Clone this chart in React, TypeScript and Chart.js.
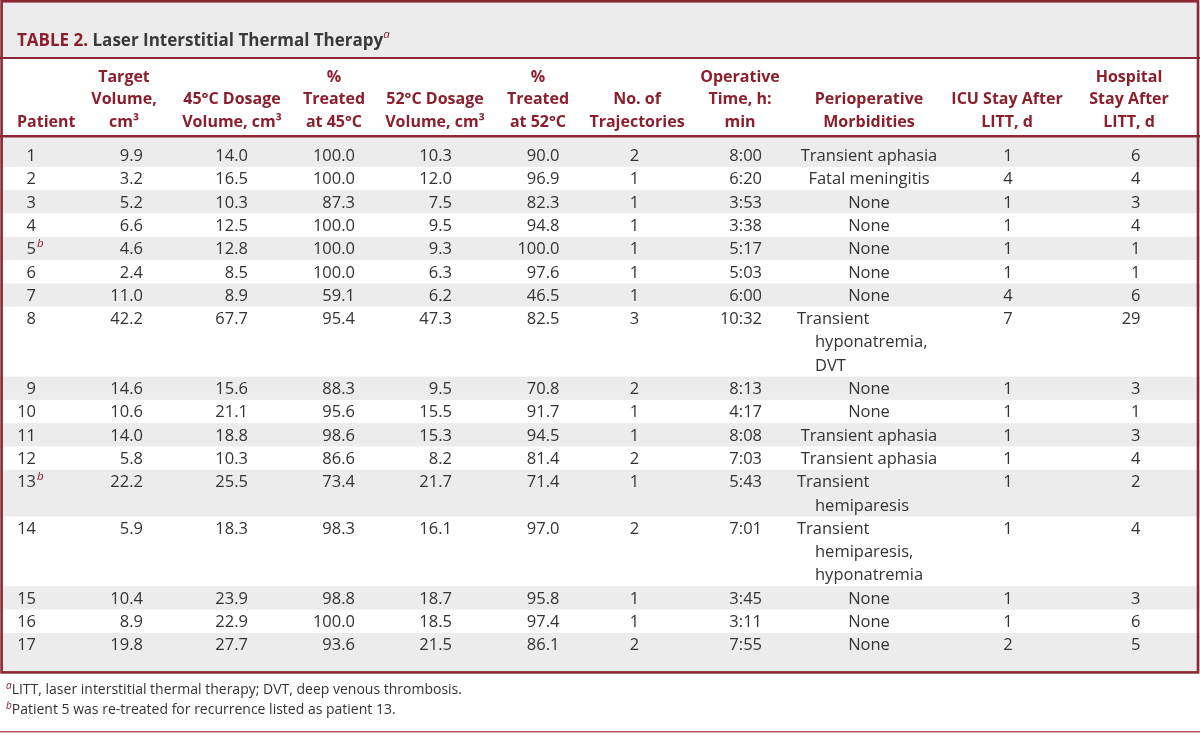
import { useEffect, useRef } from "react";
import { Chart, registerables } from "chart.js";

Chart.register(...registerables);

// ---------- DATA ----------
const patients = ["1", "2", "3", "4", "5", "6", "7", "8", "9", "10", "11", "12", "13", "14", "15", "16", "17"];
const patientNotes = ["", "", "", "", "b", "", "", "", "", "", "", "", "b", "", "", "", ""];
const targetVolume = [9.9, 3.2, 5.2, 6.6, 4.6, 2.4, 11.0, 42.2, 14.6, 10.6, 14.0, 5.8, 22.2, 5.9, 10.4, 8.9, 19.8];
const dosage45 = [14.0, 16.5, 10.3, 12.5, 12.8, 8.5, 8.9, 67.7, 15.6, 21.1, 18.8, 10.3, 25.5, 18.3, 23.9, 22.9, 27.7];
const treated45 = [100.0, 100.0, 87.3, 100.0, 100.0, 100.0, 59.1, 95.4, 88.3, 95.6, 98.6, 86.6, 73.4, 98.3, 98.8, 100.0, 93.6];
const dosage52 = [10.3, 12.0, 7.5, 9.5, 9.3, 6.3, 6.2, 47.3, 9.5, 15.5, 15.3, 8.2, 21.7, 16.1, 18.7, 18.5, 21.5];
const treated52 = [90.0, 96.9, 82.3, 94.8, 100.0, 97.6, 46.5, 82.5, 70.8, 91.7, 94.5, 81.4, 71.4, 97.0, 95.8, 97.4, 86.1];
const trajectories = [2, 1, 1, 1, 1, 1, 1, 3, 2, 1, 1, 2, 1, 2, 1, 1, 2];
const operativeTime = ["8:00", "6:20", "3:53", "3:38", "5:17", "5:03", "6:00", "10:32", "8:13", "4:17", "8:08", "7:03", "5:43", "7:01", "3:45", "3:11", "7:55"];
const morbidities = [
  ["Transient aphasia"],
  ["Fatal meningitis"],
  ["None"],
  ["None"],
  ["None"],
  ["None"],
  ["None"],
  ["Transient", "hyponatremia,", "DVT"],
  ["None"],
  ["None"],
  ["Transient aphasia"],
  ["Transient aphasia"],
  ["Transient", "hemiparesis"],
  ["Transient", "hemiparesis,", "hyponatremia"],
  ["None"],
  ["None"],
  ["None"],
];
const icuStay = [1, 4, 1, 1, 1, 1, 4, 7, 1, 1, 1, 1, 1, 1, 1, 1, 2];
const hospitalStay = [6, 4, 3, 4, 1, 1, 6, 29, 3, 1, 3, 4, 2, 4, 3, 6, 5];

const titleLabel = "TABLE 2.";
const titleText = "Laser Interstitial Thermal Therapy";
const headerLabels = [
  ["Patient"],
  ["Target", "Volume,", "cm³"],
  ["45°C Dosage", "Volume, cm³"],
  ["%", "Treated", "at 45°C"],
  ["52°C Dosage", "Volume, cm³"],
  ["%", "Treated", "at 52°C"],
  ["No. of", "Trajectories"],
  ["Operative", "Time, h:", "min"],
  ["Perioperative", "Morbidities"],
  ["ICU Stay After", "LITT, d"],
  ["Hospital", "Stay After", "LITT, d"],
];
const footnotes = [
  { mark: "a", text: "LITT, laser interstitial thermal therapy; DVT, deep venous thrombosis." },
  { mark: "b", text: "Patient 5 was re-treated for recurrence listed as patient 13." },
];

// ---------- STYLE / LAYOUT ----------
const FONT = '"Open Sans", "Noto Sans", sans-serif';
const RED = "#8a1f2e";
const BORDER = "#8b2835";
const TEXT = "#333333";
const GRAY = "#ececec";
const W = 1200;
const H = 733;
const LINE_PX = 23.3;
const FIRST_LINE_PX = 155.2;

const headerAnchors: { x: number; align: CanvasTextAlign }[] = [
  { x: 17, align: "left" },
  { x: 124, align: "center" },
  { x: 232, align: "center" },
  { x: 334, align: "center" },
  { x: 435, align: "center" },
  { x: 538, align: "center" },
  { x: 637, align: "center" },
  { x: 740, align: "center" },
  { x: 869, align: "center" },
  { x: 1007, align: "center" },
  { x: 1129, align: "center" },
];

export default function App() {
  const ref = useRef<HTMLCanvasElement>(null);

  useEffect(() => {
    if (!ref.current) return;
    const lineCounts = morbidities.map((m) => m.length);
    const starts: number[] = [];
    let acc = 0;
    lineCounts.forEach((n) => {
      starts.push(acc);
      acc += n;
    });
    const yMin = -FIRST_LINE_PX / LINE_PX;
    const yMax = yMin + H / LINE_PX;

    const drawParts = (
      ctx: CanvasRenderingContext2D,
      parts: { t: string; font: string; color: string; dy?: number }[],
      x: number,
      y: number,
      align: string
    ) => {
      let w = 0;
      parts.forEach((p) => {
        ctx.font = p.font;
        w += ctx.measureText(p.t).width;
      });
      let cx = align === "left" ? x : align === "right" ? x - w : x - w / 2;
      ctx.textAlign = "left";
      ctx.textBaseline = "alphabetic";
      parts.forEach((p) => {
        ctx.font = p.font;
        ctx.fillStyle = p.color;
        ctx.fillText(p.t, cx, y + (p.dy || 0));
        cx += ctx.measureText(p.t).width;
      });
    };

    const tablePlugin = {
      id: "tablePlugin",
      beforeDatasetsDraw(chart: any) {
        const ctx: CanvasRenderingContext2D = chart.ctx;
        const xs = chart.scales.x;
        const ys = chart.scales.y;
        const X = (v: number) => xs.getPixelForValue(v);
        const Y = (v: number) => ys.getPixelForValue(v);
        ctx.save();
        ctx.fillStyle = "#ffffff";
        ctx.fillRect(0, 0, W, H);

        // title band
        ctx.fillStyle = GRAY;
        ctx.fillRect(X(0), 2, X(W) - X(0), 56);

        // body row bands
        const headerLineY = 136.3;
        const bottomY = 673.5;
        patients.forEach((_, i) => {
          if (i % 2 !== 0) return;
          let top = Y(starts[i] - 0.5);
          let bot = Y(starts[i] + lineCounts[i] - 0.5);
          if (i === 0) top = headerLineY;
          if (i === patients.length - 1) bot = bottomY;
          ctx.fillStyle = GRAY;
          ctx.fillRect(X(0), top, X(W) - X(0), bot - top);
        });

        // rules
        ctx.fillStyle = BORDER;
        ctx.fillRect(0, 57, W, 2);
        ctx.fillRect(0, 135, W, 2.5);
        ctx.strokeStyle = BORDER;
        ctx.lineWidth = 2.6;
        ctx.strokeRect(1.6, 1.3, W - 3.6, 672.4 - 1.3);
        ctx.fillStyle = "#b5505c";
        ctx.fillRect(0, 731, W, 1.5);

        // title
        drawParts(
          ctx,
          [
            { t: titleLabel + " ", font: `bold 17px ${FONT}`, color: RED },
            { t: titleText, font: `bold 17px ${FONT}`, color: "#3a3a3a" },
            { t: "a", font: `italic 11.5px ${FONT}`, color: RED, dy: -8 },
          ],
          X(17),
          46,
          "left"
        );

        // headers (bottom aligned)
        const hBase = [81.7, 104.2, 126.8];
        headerLabels.forEach((lines, c) => {
          const a = headerAnchors[c];
          lines.forEach((ln, k) => {
            const base = hBase[3 - lines.length + k];
            ctx.font = `bold 16px ${FONT}`;
            ctx.fillStyle = RED;
            ctx.textAlign = a.align;
            ctx.textBaseline = "alphabetic";
            ctx.fillText(ln, X(a.x), base);
          });
        });

        // body cells
        const bodyFont = `16.5px ${FONT}`;
        const cell = (txt: string, x: number, y: number, align: CanvasTextAlign) => {
          ctx.font = bodyFont;
          ctx.fillStyle = TEXT;
          ctx.textAlign = align;
          ctx.textBaseline = "alphabetic";
          ctx.fillText(txt, X(x), y);
        };
        patients.forEach((p, i) => {
          const b = Y(starts[i]) + 5.8;
          cell(p, 36, b, "right");
          if (patientNotes[i]) {
            ctx.font = `italic 11.5px ${FONT}`;
            ctx.fillStyle = RED;
            ctx.textAlign = "left";
            ctx.fillText(patientNotes[i], X(37), b - 7);
          }
          cell(targetVolume[i].toFixed(1), 143, b, "right");
          cell(dosage45[i].toFixed(1), 248, b, "right");
          cell(treated45[i].toFixed(1), 355, b, "right");
          cell(dosage52[i].toFixed(1), 452, b, "right");
          cell(treated52[i].toFixed(1), 559.5, b, "right");
          cell(String(trajectories[i]), 634.5, b, "center");
          cell(operativeTime[i], 762, b, "right");
          const m = morbidities[i];
          if (m.length === 1) {
            cell(m[0], 869, b, "center");
          } else {
            m.forEach((ln, k) => {
              cell(ln, k === 0 ? 797 : 815, Y(starts[i] + k) + 5.8, "left");
            });
          }
          cell(String(icuStay[i]), 1008, b, "center");
          cell(String(hospitalStay[i]), 1140.5, b, "right");
        });

        // footnotes
        const fBase = [694, 714];
        footnotes.forEach((f, k) => {
          drawParts(
            ctx,
            [
              { t: f.mark, font: `italic 10px ${FONT}`, color: RED, dy: -5 },
              { t: f.text, font: `14px ${FONT}`, color: TEXT },
            ],
            X(6),
            fBase[k],
            "left"
          );
        });
        ctx.restore();
      },
    };

    const chart = new Chart(ref.current, {
      type: "scatter",
      data: {
        datasets: [
          {
            label: "rows",
            data: starts.map((s) => ({ x: 0, y: s })),
            pointRadius: 0,
            showLine: false,
          },
        ],
      },
      options: {
        animation: false,
        responsive: false,
        events: [],
        layout: { padding: 0 },
        plugins: { legend: { display: false }, tooltip: { enabled: false }, title: { display: false } },
        scales: {
          x: { type: "linear", min: 0, max: W, display: false },
          y: { type: "linear", min: yMin, max: yMax, reverse: true, display: false },
        },
      },
      plugins: [tablePlugin],
    });
    return () => chart.destroy();
  }, []);

  return (
    <div style={{ position: "fixed", left: 0, top: 0, width: W, height: H, background: "#fff" }}>
      <canvas ref={ref} width={W} height={H} style={{ display: "block" }} />
    </div>
  );
}
